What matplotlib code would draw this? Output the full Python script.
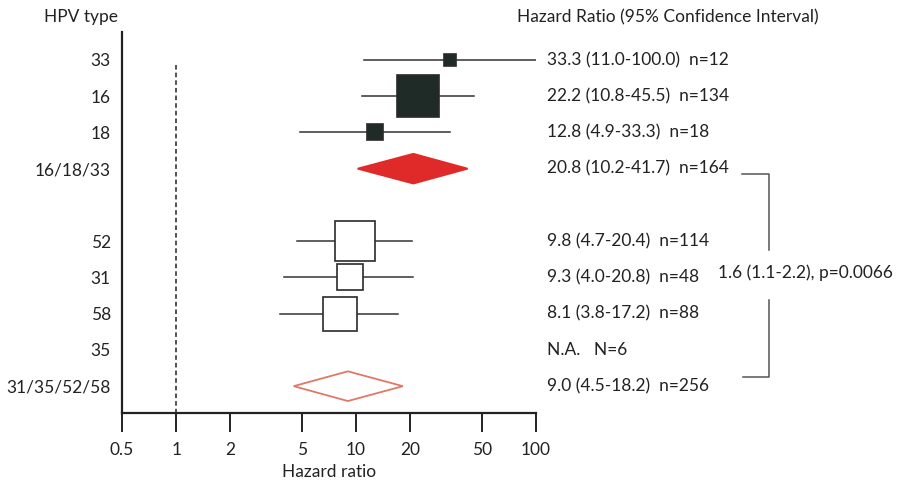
import numpy as np
import matplotlib.pyplot as plt
import matplotlib.transforms as mtrans
from matplotlib.patches import Polygon

plt.rcParams['font.family'] = ['Lato', 'DejaVu Sans']

# HPV types, top to bottom; the pooled rows close each group
group_a = ['33', '16', '18', '16/18/33']
group_b = ['52', '31', '58', '35', '31/35/52/58']
hr_a = [33.3, 22.2, 12.8, 20.8]
lo_a = [11.0, 10.8, 4.9, 10.2]
hi_a = [100.0, 45.5, 33.3, 41.7]
n_a = [12, 134, 18, 164]
hr_b = [9.8, 9.3, 8.1, np.nan, 9.0]
lo_b = [4.7, 4.0, 3.8, np.nan, 4.5]
hi_b = [20.4, 20.8, 17.2, np.nan, 18.2]
n_b = [114, 48, 88, 6, 256]
compare_text = '1.6 (1.1-2.2), p=0.0066'
xticks = [0.5, 1, 2, 5, 10, 20, 50, 100]

FS = 12.5
txt = '#222222'

fig = plt.figure(figsize=(9.03, 4.86), dpi=100)
ax = fig.add_axes([122 / 903, 73 / 486, 414 / 903, 381 / 486])
ax.set_xscale('log')
ax.set_xlim(0.5, 100)
ax.set_ylim(9.74, -0.77)

rows_a = np.arange(len(group_a))
rows_b = np.arange(len(group_b)) + len(group_a) + 1

# x in inches from the figure edge, y in row units
blend = mtrans.blended_transform_factory(fig.dpi_scale_trans, ax.transData)


def draw_group(rows, names, hr, lo, hi, n, fill, dia_face, dia_edge):
    for i, y in enumerate(rows):
        pooled = i == len(names) - 1
        if np.isnan(hr[i]):
            label = 'N.A.   N=%d' % n[i]
        else:
            label = '%.1f (%.1f-%.1f)  n=%d' % (hr[i], lo[i], hi[i], n[i])
            if pooled:
                h = 0.41
                ax.add_patch(Polygon([(lo[i], y), (hr[i], y - h), (hi[i], y), (hr[i], y + h)],
                                     closed=True, facecolor=dia_face, edgecolor=dia_edge,
                                     lw=1.3, zorder=3))
            else:
                ax.plot([lo[i], hi[i]], [y, y], color='#333333', lw=1.1, zorder=2)
                # box area follows the number of cases
                ax.plot(hr[i], y, marker='s', ms=2.63 * np.sqrt(n[i]),
                        mfc=fill, mec='#2a2a2a', mew=1.2, zorder=3)
        ax.text(5.47, y, label, transform=blend, fontsize=FS, color=txt,
                va='center', ha='left', clip_on=False)


draw_group(rows_a, group_a, hr_a, lo_a, hi_a, n_a, '#1e2b26', '#e02a2a', '#e02a2a')
draw_group(rows_b, group_b, hr_b, lo_b, hi_b, n_b, 'white', 'white', '#e07868')

# reference line at HR = 1
ax.plot([1, 1], [0.14, 9.74], ls=(0, (3, 2)), color='#222222', lw=1.1, zorder=1)

ax.set_yticks(list(rows_a) + list(rows_b))
ax.set_yticklabels(group_a + group_b, fontsize=FS, color=txt)
ax.tick_params(axis='y', length=0, pad=8)
ax.set_xticks(xticks)
ax.set_xticklabels([('%g' % t) for t in xticks], fontsize=FS, color=txt)
ax.minorticks_off()
ax.tick_params(axis='x', direction='out', length=14, width=1.4, color='#222222', pad=7)
for s in ['top', 'right']:
    ax.spines[s].set_visible(False)
for s in ['left', 'bottom']:
    ax.spines[s].set_linewidth(1.6)
    ax.spines[s].set_color('#222222')
ax.set_xlabel('Hazard ratio', fontsize=FS, color=txt, labelpad=4)

# bracket comparing the two pooled estimates
y_top = rows_a[-1] + 0.14
y_bot = rows_b[-1] - 0.24
y_mid = rows_b[0] + 0.88
kw = dict(transform=blend, color='#555555', lw=1.1, clip_on=False)
ax.plot([7.42, 7.69, 7.69], [y_top, y_top, y_mid - 0.64], **kw)
ax.plot([7.69, 7.69, 7.43], [y_mid + 0.74, y_bot, y_bot], **kw)
ax.text(7.18, y_mid, compare_text, transform=blend, fontsize=FS, color=txt,
        va='center', ha='left', clip_on=False)

fig.text(44 / 903, 1 - 17 / 486, 'HPV type', fontsize=FS, color=txt, va='center', ha='left')
fig.text(517 / 903, 1 - 17 / 486, 'Hazard Ratio (95% Confidence Interval)', fontsize=FS,
         color=txt, va='center', ha='left')

fig.savefig('out.png', dpi=100)
